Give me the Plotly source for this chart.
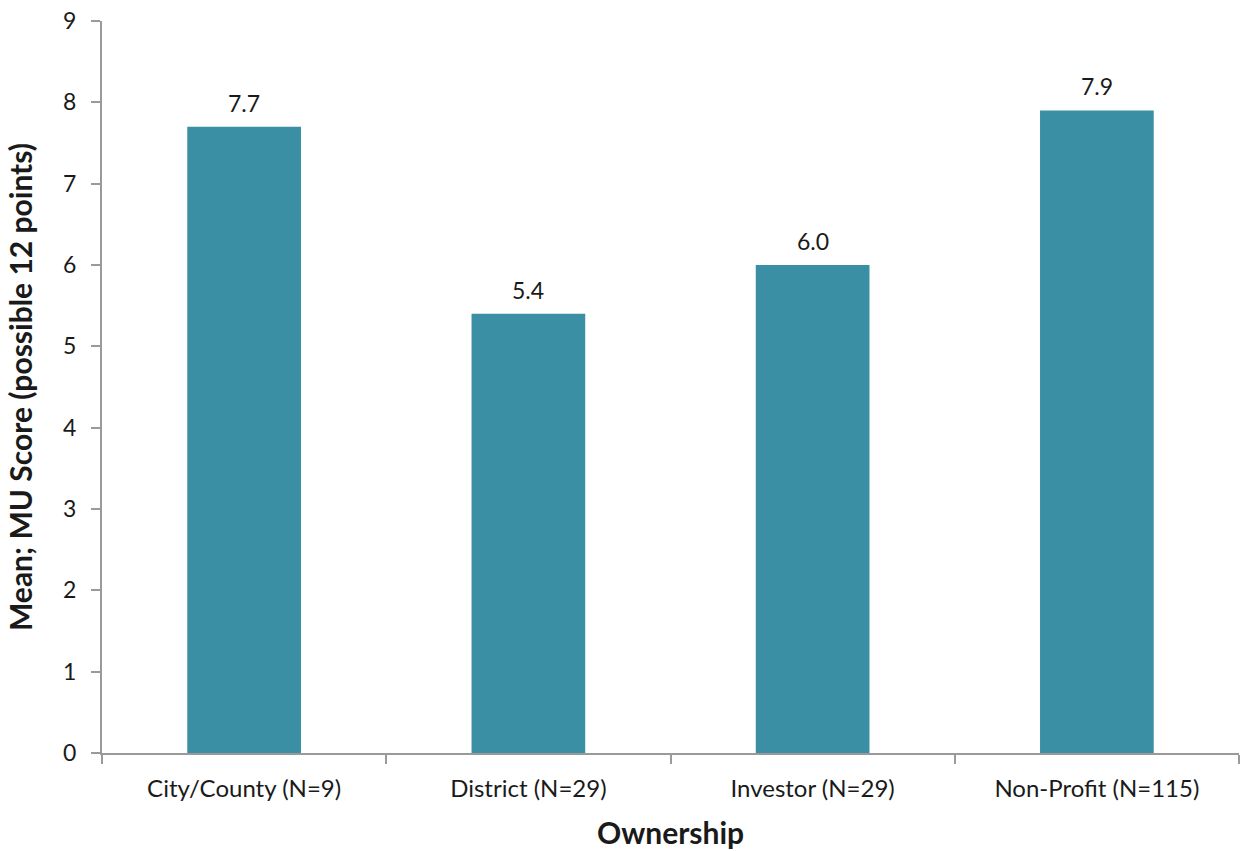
import plotly.graph_objects as go

categories = ["City/County (N=9)", "District (N=29)", "Investor (N=29)", "Non-Profit (N=115)"]
mean_scores = [7.7, 5.4, 6.0, 7.9]
y_ticks = [0, 1, 2, 3, 4, 5, 6, 7, 8, 9]

FONT = "Lato, 'Open Sans', sans-serif"
TEXT = "#1a1a1a"
AXIS = "#9a9a9a"

fig = go.Figure(
    go.Bar(
        x=categories,
        y=mean_scores,
        marker=dict(color="#3A8FA5", line=dict(width=0)),
        hoverinfo="x+y",
    )
)

# value labels above each bar
for cat, val in zip(categories, mean_scores):
    fig.add_annotation(
        x=cat,
        y=val,
        text=f"{val:.1f}",
        showarrow=False,
        yanchor="bottom",
        yshift=8,
        font=dict(family=FONT, size=23, color=TEXT),
    )

fig.update_layout(
    width=1241,
    height=851,
    margin=dict(l=102, r=2, t=21, b=98),
    paper_bgcolor="white",
    plot_bgcolor="white",
    bargap=0.6,
    showlegend=False,
    font=dict(family=FONT, size=23, color=TEXT),
)

fig.update_xaxes(
    type="category",
    showline=True,
    linecolor=AXIS,
    linewidth=2,
    ticks="outside",
    tickson="boundaries",
    ticklen=9,
    tickwidth=2,
    tickcolor=AXIS,
    showgrid=False,
    ticklabelstandoff=13,
    tickfont=dict(family=FONT, size=24, color=TEXT),
    title=dict(text="<b>Ownership</b>", font=dict(family=FONT, size=30, color=TEXT), standoff=22),
)

fig.update_yaxes(
    range=[0, 9],
    tickvals=y_ticks,
    showline=True,
    linecolor=AXIS,
    linewidth=2,
    ticks="outside",
    ticklen=9,
    tickwidth=2,
    tickcolor=AXIS,
    showgrid=False,
    zeroline=False,
    ticklabelstandoff=10,
    tickfont=dict(family=FONT, size=23, color=TEXT),
    title=dict(text="<b>Mean; MU Score (possible 12 points)</b>", font=dict(family=FONT, size=30, color=TEXT), standoff=22),
)

fig.write_html("out.html")
